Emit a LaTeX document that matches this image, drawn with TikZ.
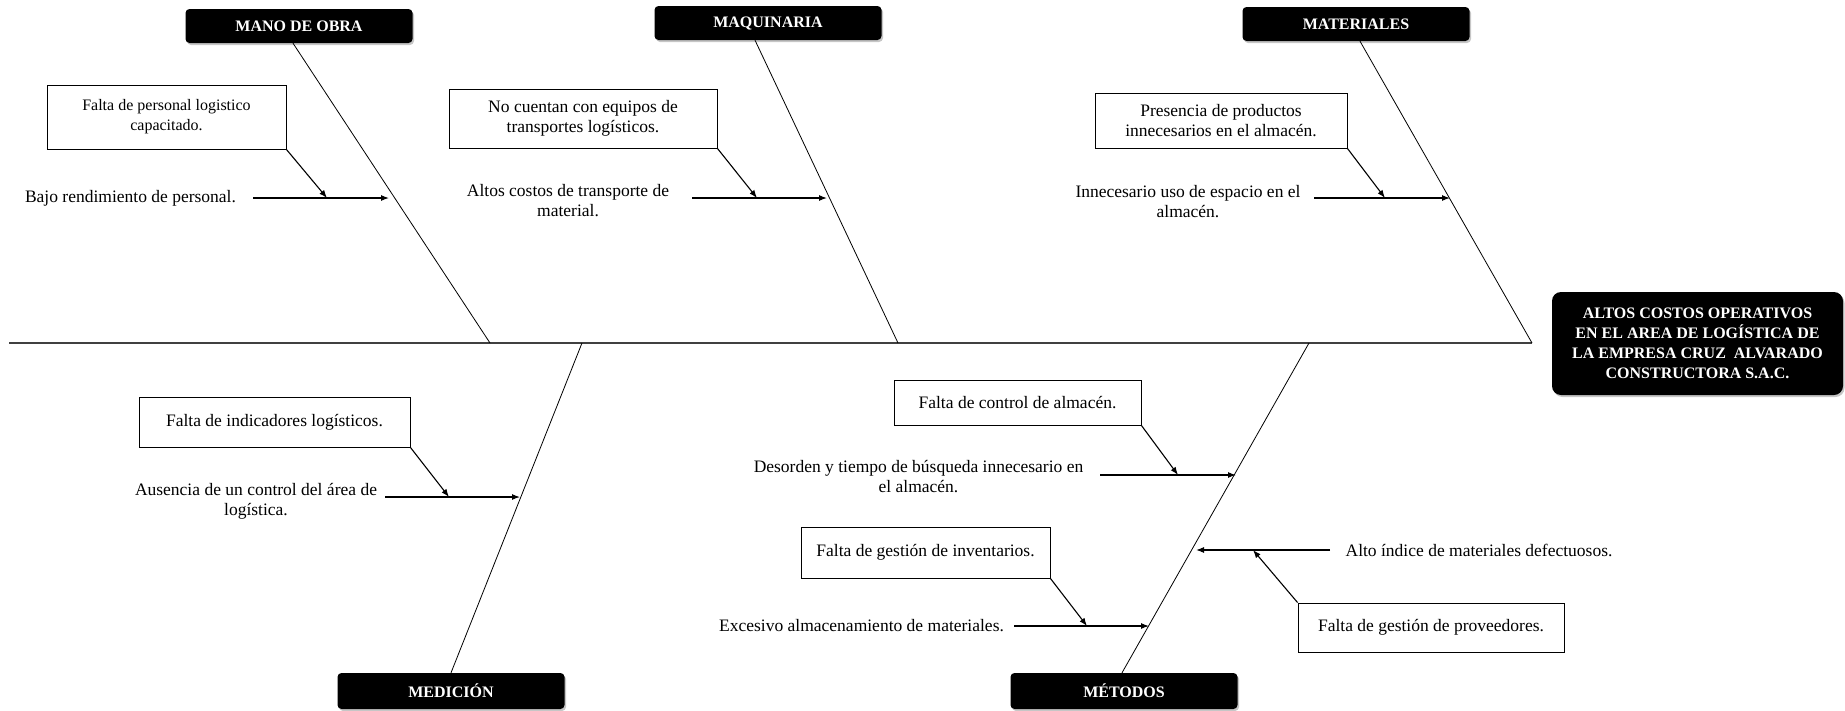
\documentclass[tikz,border=0pt]{standalone}
\usepackage{fontspec}
\setmainfont{Liberation Serif}
\usepackage{tikz}
\usetikzlibrary{arrows.meta,shadows}
\tikzset{
  spine/.style={draw=black!75, line width=1.5pt},
  bone/.style={draw=black, line width=0.8pt},
  arr/.style={draw=black, line width=1.1pt, -{Latex[length=8pt,width=6pt]}},
  cause/.style={draw=black, line width=0.8pt, fill=white, align=center, inner sep=2pt, font=\fontsize{17.5}{20}\selectfont},
  lab/.style={align=center, inner sep=0pt, font=\fontsize{17.5}{20}\selectfont},
  cat/.style={fill=black, text=white, rounded corners=4pt, minimum width=227pt, minimum height=34pt, align=center,
    font=\bfseries\fontsize{16}{20}\selectfont, drop shadow={opacity=0.45, shadow xshift=1.5pt, shadow yshift=-2pt}},
}

\begin{document}
\begin{tikzpicture}[x=1pt,y=-1pt]
  \useasboundingbox (0,0) rectangle (1845,710);

  % categorias
  \node[cat] (mo)  at (299,26)  {MANO DE OBRA};
  \node[cat] (maq) at (768,23)  {MAQUINARIA};
  \node[cat] (mat) at (1356,24) {MATERIALES};
  \node[cat, minimum height=36pt] (med) at (451,691)  {MEDICIÓN};
  \node[cat, minimum height=36pt] (met) at (1124,691) {MÉTODOS};
  \node[cat, minimum width=291pt, minimum height=103pt, rounded corners=9pt] (efecto) at (1697.5,343.5)
    {ALTOS COSTOS OPERATIVOS\\EN EL AREA DE LOGÍSTICA DE\\LA EMPRESA CRUZ \ ALVARADO\\CONSTRUCTORA S.A.C.};

  % espina y huesos
  \coordinate (sIni) at (9,343);
  \coordinate (sFin) at (1532,343);
  \draw[spine] (sIni) -- (sFin);
  \coordinate (pMO)  at (490,343);
  \coordinate (pMAQ) at (898,343);
  \coordinate (pMED) at (582,343);
  \coordinate (pMET) at (1309,343);
  \draw[bone] ([xshift=-6pt]mo.south) -- (pMO);
  \draw[bone] ([xshift=-13pt]maq.south) -- (pMAQ);
  \draw[bone] ([xshift=4pt]mat.south) -- (sFin);
  \draw[bone] (med.north) -- (pMED);
  \draw[bone] ([xshift=-2pt]met.north) -- (pMET);

  % mano de obra
  \node[cause, minimum width=239pt, minimum height=64pt, font=\fontsize{16}{20}\selectfont] (mo1) at (166.5,117)
    {Falta de personal logistico\\capacitado.};
  \node[lab] (mo2) at (130.5,198) {Bajo rendimiento de personal.};
  \coordinate (mo2a) at (253,198);
  \coordinate (mo2b) at (389,198);
  \coordinate (mo1b) at (327,198);
  \draw[arr] (mo2a) -- (mo2b);
  \draw[arr] (mo1.south east) -- (mo1b);

  % maquinaria
  \node[cause, minimum width=268pt, minimum height=59pt] (maq1) at (583,118.5)
    {No cuentan con equipos de\\transportes logísticos.};
  \node[lab] (maq2) at (568,201) {Altos costos de transporte de\\material.};
  \coordinate (maq2a) at (692,198);
  \coordinate (maq2b) at (827,198);
  \coordinate (maq1b) at (757,198);
  \draw[arr] (maq2a) -- (maq2b);
  \draw[arr] (maq1.south east) -- (maq1b);

  % materiales
  \node[cause, minimum width=252pt, minimum height=55pt] (mat1) at (1221,120.5)
    {Presencia de productos\\innecesarios en el almacén.};
  \node[lab] (mat2) at (1188,202) {Innecesario uso de espacio en el\\almacén.};
  \coordinate (mat2a) at (1314,198);
  \coordinate (mat2b) at (1450,198);
  \coordinate (mat1b) at (1385,198);
  \draw[arr] (mat2a) -- (mat2b);
  \draw[arr] (mat1.south east) -- (mat1b);

  % medicion
  \node[cause, minimum width=271pt, minimum height=50pt] (med1) at (274.5,422)
    {Falta de indicadores logísticos.};
  \node[lab] (med2) at (256,501) {Ausencia de un control del área de\\logística.};
  \coordinate (med2a) at (385,497);
  \coordinate (med2b) at (520,497);
  \coordinate (med1b) at (449,497);
  \draw[arr] (med2a) -- (med2b);
  \draw[arr] (med1.south east) -- (med1b);

  % metodos
  \node[cause, minimum width=247pt, minimum height=45pt] (met1) at (1017.5,402.5)
    {Falta de control de almacén.};
  \node[lab] (met2) at (918.5,477) {Desorden y tiempo de búsqueda innecesario en\\el almacén.};
  \coordinate (met2a) at (1100,475);
  \coordinate (met2b) at (1236,475);
  \coordinate (met1b) at (1178,475);
  \draw[arr] (met2a) -- (met2b);
  \draw[arr] (met1.south east) -- (met1b);

  \node[cause, minimum width=249pt, minimum height=51pt] (met3) at (925.5,552.5)
    {Falta de gestión de inventarios.};
  \node[lab] (met4) at (861.5,626) {Excesivo almacenamiento de materiales.};
  \coordinate (met4a) at (1014,626);
  \coordinate (met4b) at (1149,626);
  \coordinate (met3b) at (1087,626);
  \draw[arr] (met4a) -- (met4b);
  \draw[arr] (met3.south east) -- (met3b);

  \node[lab] (met6) at (1479,550) {Alto índice de materiales defectuosos.};
  \node[cause, minimum width=266pt, minimum height=49pt] (met5) at (1431,627.5)
    {Falta de gestión de proveedores.};
  \coordinate (met6a) at (1330,550);
  \coordinate (met6b) at (1196,550);
  \coordinate (met5b) at (1253,550);
  \draw[arr] (met6a) -- (met6b);
  \draw[arr] (met5.north west) -- (met5b);
\end{tikzpicture}
\end{document}
